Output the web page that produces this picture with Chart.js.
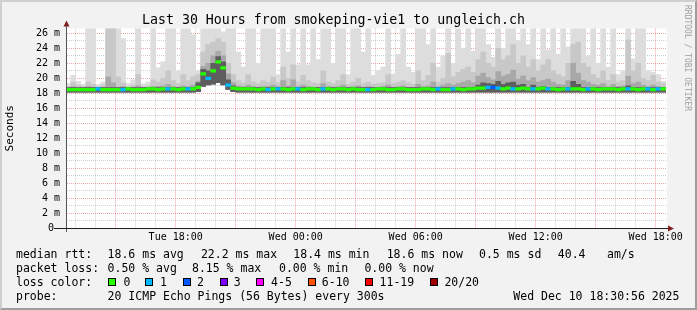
<!DOCTYPE html>
<html>
<head>
<meta charset="utf-8">
<script src="https://cdn.jsdelivr.net/npm/chart.js@4.4.1/dist/chart.umd.min.js"></script>
<style>
  html, body { margin: 0; padding: 0; background: #f2f2f2; }
  #wrap { position: relative; width: 697px; height: 310px; overflow: hidden; background: #f2f2f2; }
  #frame { position: absolute; left: 0; top: 0; width: 697px; height: 310px; box-sizing: border-box;
           border-style: solid; border-width: 2px; border-color: #cfcfcf #9e9e9e #9e9e9e #cfcfcf; }
  #c { position: absolute; left: 0; top: 0; }
  .t { position: absolute; font-family: 'DejaVu Sans Mono', monospace; font-size: 11.5px; line-height: 14px; color: #000; white-space: pre; }
  .sw { position: absolute; width: 8px; height: 8px; box-sizing: border-box; border: 1px solid #000; top: 278px; }
  #wm { position: absolute; left: 683px; top: 5px; writing-mode: vertical-rl; font-family: 'DejaVu Sans Mono', monospace; font-size: 8px; line-height: 9px; color: #a0a0a0; white-space: pre; }
</style>
</head>
<body>
<div id="wrap">
  <div id="frame"></div>
  <canvas id="c" width="697" height="310"></canvas>

  <div class="t" style="left:16px;top:247px">median rtt:</div>
  <div class="t" style="left:107.6px;top:247px">18.6 ms avg</div>
  <div class="t" style="left:200.9px;top:247px">22.2 ms max</div>
  <div class="t" style="left:293.3px;top:247px">18.4 ms min</div>
  <div class="t" style="left:386.7px;top:247px">18.6 ms now</div>
  <div class="t" style="left:479px;top:247px">0.5 ms sd</div>
  <div class="t" style="left:557.8px;top:247px">40.4</div>
  <div class="t" style="left:607px;top:247px">am/s</div>

  <div class="t" style="left:16px;top:261px">packet loss:</div>
  <div class="t" style="left:107.6px;top:261px">0.50 % avg</div>
  <div class="t" style="left:192px;top:261px">8.15 % max</div>
  <div class="t" style="left:279px;top:261px">0.00 % min</div>
  <div class="t" style="left:364.4px;top:261px">0.00 % now</div>

  <div class="t" style="left:16px;top:275px">loss color:</div>
  <div class="sw" style="left:108.4px;background:#26ff00"></div><div class="t" style="left:123.6px;top:275px">0</div>
  <div class="sw" style="left:145.3px;background:#00b8ff"></div><div class="t" style="left:160px;top:275px">1</div>
  <div class="sw" style="left:182.7px;background:#0059ff"></div><div class="t" style="left:196.9px;top:275px">2</div>
  <div class="sw" style="left:219.6px;background:#7e00ff"></div><div class="t" style="left:233.8px;top:275px">3</div>
  <div class="sw" style="left:256.4px;background:#ff00ff"></div><div class="t" style="left:271.1px;top:275px">4-5</div>
  <div class="sw" style="left:307.6px;background:#ff5500"></div><div class="t" style="left:321.8px;top:275px">6-10</div>
  <div class="sw" style="left:365.3px;background:#ff0000"></div><div class="t" style="left:379.6px;top:275px">11-19</div>
  <div class="sw" style="left:430.2px;background:#a10000"></div><div class="t" style="left:444.4px;top:275px">20/20</div>

  <div class="t" style="left:16px;top:289px">probe:</div>
  <div class="t" style="left:107.6px;top:289px">20 ICMP Echo Pings (56 Bytes) every 300s</div>
  <div class="t" style="left:513.3px;top:289px">Wed Dec 10 18:30:56 2025</div>

  <div id="wm">RRDTOOL / TOBI OETIKER</div>
</div>
<script>
// ---- data (hours since Tue 00:00; 15-minute steps from Tue 12:30) ----
const SLOT_START = 12.5;
const SLOT_STEP = 0.25;
const AXIS_START = 12.565;
const AXIS_END = 42.565;
const Y_MAX = 26.667;

const xTickHours = [18, 24, 30, 36, 42];
const xTickLabels = ['Tue 18:00', 'Wed 00:00', 'Wed 06:00', 'Wed 12:00', 'Wed 18:00'];
const yTickValues = [0, 2, 4, 6, 8, 10, 12, 14, 16, 18, 20, 22, 24, 26];

const lossColors = ['#26ff00', '#00b8ff', '#0059ff', '#7e00ff', '#ff00ff', '#ff5500', '#ff0000', '#a10000'];

// median rtt (ms)
const median = [
  18.5,18.5,18.5,18.5,18.5,18.5,18.6,18.5,18.5,18.5,
  18.5,18.5,18.6,18.5,18.5,18.5,18.6,18.6,18.5,18.6,
  18.6,18.6,18.5,18.6,18.6,18.6,18.8,20.6,20.0,21.0,
  22.2,21.4,19.1,18.7,18.6,18.6,18.6,18.6,18.5,18.6,
  18.5,18.6,18.6,18.6,18.5,18.6,18.6,18.5,18.6,18.6,
  18.5,18.6,18.6,18.5,18.6,18.6,18.5,18.6,18.5,18.5,
  18.5,18.5,18.6,18.6,18.5,18.5,18.6,18.6,18.5,18.5,
  18.5,18.6,18.6,18.5,18.6,18.5,18.5,18.6,18.6,18.5,
  18.6,18.6,18.7,18.7,18.8,18.8,18.7,18.6,18.7,18.6,
  18.6,18.7,18.6,18.6,18.6,18.7,18.6,18.6,18.5,18.6,
  18.6,18.6,18.6,18.5,18.6,18.6,18.5,18.6,18.6,18.6,
  18.5,18.6,18.6,18.6,18.5,18.6,18.6,18.5,18.6,18.6
];

// lost pings per step (index into lossColors)
const loss = [
  0,0,0,0,0,0,1,0,0,0,
  0,1,0,0,0,0,0,0,0,0,
  1,0,0,0,1,0,0,0,1,0,
  0,0,1,0,0,0,0,0,0,0,
  1,0,1,0,0,0,1,0,0,0,
  0,1,0,0,0,0,0,0,0,0,
  1,0,0,0,0,0,0,0,0,0,
  0,0,0,0,1,0,0,1,0,0,
  0,0,0,0,1,2,1,0,0,1,
  0,0,0,1,0,0,1,0,0,0,
  1,0,0,0,1,0,0,0,0,0,
  0,0,1,0,0,0,1,0,1,0
];

// smoke: lowest ping per step
const smokeMin = [
  18.15,18.15,18.15,18.15,18.15,18.15,18.15,18.15,18.15,18.15,
  18.15,18.15,18.15,18.15,18.15,18.15,18.15,18.15,18.15,18.15,
  18.15,18.15,18.15,18.15,18.15,18.15,18.2,18.9,19.1,19.2,
  19.4,19.1,18.5,18.2,18.15,18.15,18.15,18.15,18.15,18.15,
  18.15,18.15,18.15,18.15,18.15,18.15,18.15,18.15,18.15,18.15,
  18.15,18.15,18.15,18.15,18.15,18.15,18.15,18.15,18.15,18.15,
  18.15,18.15,18.15,18.15,18.15,18.15,18.15,18.15,18.15,18.15,
  18.15,18.15,18.15,18.15,18.15,18.15,18.15,18.15,18.15,18.15,
  18.15,18.15,18.15,18.15,18.15,18.15,18.15,18.15,18.15,18.15,
  18.15,18.15,18.15,18.15,18.15,18.15,18.15,18.15,18.15,18.15,
  18.15,18.15,18.15,18.15,18.15,18.15,18.15,18.15,18.15,18.15,
  18.15,18.15,18.15,18.15,18.15,18.15,18.15,18.15,18.15,18.15
];

// smoke: highest ping per step (values above the axis are clipped)
const smokeMax = [
  19.3,20.4,19.6,19.2,28,28,19.2,19.5,28,28,
  28,25.3,19.3,19.8,28,19.3,19.5,28,21.4,22.2,
  28,28,21.0,28,28,25.8,21.0,28,28,28,
  28,26.2,28,28,23.5,21.5,28,28,22.0,28,
  28,28,20.5,28,23.5,28,21.8,28,21.8,28,
  22.5,28,28,22.0,28,28,20.5,28,28,23.5,
  28,20.4,21.0,21.5,28,20.6,23.2,28,21.5,20.8,
  28,28,24.5,28,21.5,23.0,28,22.0,28,24.0,
  28,23.6,28,28,24.5,22.8,28,24.0,28,28,
  25.0,28,24.5,28,22.5,28,23.8,28,23.2,28,
  24.2,28,28,28,23.0,28,22.0,28,21.5,28,
  20.5,21.0,28,22.6,28,28,21.0,20.8,20.5,19.6
];

// smoke: upper outer pings
const smokeHigh = [
  18.9,19.5,19.1,18.9,19.5,19.2,18.9,19.1,28,28,
  20.2,19.4,18.9,19.1,20.5,18.9,19.0,19.8,19.5,20.0,
  21.0,19.7,19.3,20.5,19.7,20.2,20.5,23.5,24.5,24.8,
  25.3,24.8,22.0,20.5,19.7,19.4,20.5,19.5,19.3,19.7,
  19.5,20.2,19.4,21.5,20.0,21.8,19.5,20.4,19.7,19.4,
  19.3,21.0,19.5,19.3,19.7,20.5,19.2,19.5,20.0,19.3,
  19.5,19.2,19.3,19.4,20.5,19.3,19.5,19.7,19.4,19.2,
  21.0,19.7,20.4,22.0,19.5,20.0,23.3,20.2,20.8,21.2,
  21.5,20.8,22.5,23.5,22.0,21.5,24.0,22.5,23.0,24.5,
  22.0,23.0,21.5,22.5,21.0,21.8,22.5,21.0,20.5,20.2,
  22.0,24.5,24.8,22.0,21.5,20.5,20.0,21.0,19.7,20.5,
  19.5,19.7,25.1,21.0,22.0,20.0,19.7,20.4,19.5,19.3
];

// smoke: middle pings
const smokeMid = [
  18.8,18.9,18.8,18.8,18.9,18.8,18.8,18.8,20.2,19.4,
  18.8,18.9,18.8,18.8,19.0,18.8,18.8,18.9,18.9,19.0,
  19.2,18.9,18.8,19.0,18.9,19.1,19.6,21.6,22.0,23.0,
  23.6,23.0,20.6,19.4,19.0,18.9,19.1,18.9,18.8,18.9,
  18.9,19.1,18.9,19.7,19.0,19.8,18.9,19.1,18.9,18.8,
  18.8,19.3,18.9,18.8,18.9,19.1,18.8,18.9,19.0,18.8,
  18.9,18.8,18.8,18.9,19.1,18.8,18.9,19.0,18.8,18.8,
  19.2,18.9,19.0,19.5,18.9,19.1,19.3,19.1,19.3,19.5,
  19.7,19.4,20.3,20.7,20.1,19.8,20.9,20.3,20.5,21.1,
  19.9,20.3,19.7,20.1,19.5,19.7,19.9,19.5,19.2,19.1,
  19.7,22.0,20.7,19.7,19.5,19.2,19.1,19.3,18.9,19.2,
  18.9,19.0,20.3,19.3,19.5,19.1,18.9,19.1,18.9,18.8
];

// smoke: pings closest to the median
const smokeCore = [
  18.75,18.75,18.75,18.75,18.75,18.75,18.8,18.75,18.75,18.75,
  18.75,18.75,18.8,18.75,18.75,18.75,18.8,18.8,18.75,18.8,
  18.8,18.8,18.75,18.8,18.8,18.8,19.4,21.2,21.0,22.0,
  22.9,22.2,19.8,19.0,18.8,18.8,18.8,18.8,18.75,18.8,
  18.75,18.8,18.8,18.8,18.75,18.8,18.8,18.75,18.8,18.8,
  18.75,18.8,18.8,18.75,18.8,18.8,18.75,18.8,18.75,18.75,
  18.75,18.75,18.8,18.8,18.75,18.75,18.8,18.8,18.75,18.75,
  18.75,18.8,18.8,18.75,18.8,18.75,18.75,18.8,18.8,18.75,
  18.8,18.8,19.1,19.4,19.3,19.2,19.6,19.2,19.4,19.5,
  19.1,19.2,18.8,19.1,18.8,18.9,18.8,18.8,18.75,18.8,
  18.8,19.6,19.2,18.75,18.8,18.8,18.75,18.8,18.8,18.8,
  18.75,18.8,19.0,18.8,18.75,18.8,18.8,18.75,18.8,18.8
];

// ---- chart ----
const FONT = 'DejaVu Sans Mono';
const MEDIAN_HALF = 0.17;
const times = median.map((_, i) => SLOT_START + SLOT_STEP * (i + 0.5));

function smokeBand(top, color, order) {
  return {
    data: times.map((t, i) => ({ x: t, y: [smokeMin[i], top[i]] })),
    backgroundColor: color, borderWidth: 0, grouped: false,
    barPercentage: 1, categoryPercentage: 1, order: order, clip: 0
  };
}

const datasets = [
  {
    data: times.map((t, i) => ({ x: t, y: [median[i] - MEDIAN_HALF, median[i] + MEDIAN_HALF] })),
    backgroundColor: loss.map(l => lossColors[l]),
    borderWidth: 0, grouped: false, barPercentage: 1, categoryPercentage: 1, order: 0, clip: 0
  },
  smokeBand(smokeCore, '#5e5e5e', 1),
  smokeBand(smokeMid, '#a8a8a8', 2),
  smokeBand(smokeHigh, '#c8c8c8', 3),
  smokeBand(smokeMax, '#dddddd', 4)
];

const MINOR = 'rgba(143,143,143,0.42)';
const MAJOR = 'rgba(222,79,79,0.5)';

const frame = {
  id: 'frame',
  beforeDraw(chart) {
    const { ctx, chartArea: a } = chart;
    ctx.save();
    ctx.fillStyle = '#ffffff';
    ctx.fillRect(a.left, a.top, a.right - a.left, a.bottom - a.top);
    ctx.restore();
  },
  afterDraw(chart) {
    const { ctx, chartArea: a } = chart;
    ctx.save();
    // y axis
    ctx.strokeStyle = '#555555';
    ctx.lineWidth = 1;
    ctx.beginPath();
    ctx.moveTo(a.left - 0.5, a.bottom + 4);
    ctx.lineTo(a.left - 0.5, a.top - 3);
    ctx.stroke();
    // x axis
    ctx.strokeStyle = '#1f1f1f';
    ctx.beginPath();
    ctx.moveTo(a.left - 13, a.bottom + 0.5);
    ctx.lineTo(a.right + 3, a.bottom + 0.5);
    ctx.stroke();
    // arrows
    ctx.fillStyle = '#801f1f';
    ctx.beginPath();
    ctx.moveTo(a.left - 0.5, a.top - 8);
    ctx.lineTo(a.left + 2.5, a.top - 2);
    ctx.lineTo(a.left - 3.5, a.top - 2);
    ctx.closePath();
    ctx.fill();
    ctx.beginPath();
    ctx.moveTo(a.right + 7, a.bottom + 0.5);
    ctx.lineTo(a.right + 1, a.bottom - 2.5);
    ctx.lineTo(a.right + 1, a.bottom + 3.5);
    ctx.closePath();
    ctx.fill();
    ctx.restore();
  }
};

new Chart(document.getElementById('c'), {
  type: 'bar',
  data: { datasets },
  plugins: [frame],
  options: {
    responsive: false,
    animation: false,
    devicePixelRatio: 1,
    events: [],
    layout: { padding: { left: 0, right: 30, top: 0, bottom: 0 } },
    plugins: {
      legend: { display: false },
      tooltip: { enabled: false },
      title: {
        display: true,
        text: 'Last 30 Hours from smokeping-vie1 to ungleich.ch',
        color: '#000',
        font: { family: FONT, size: 13.25, weight: 'normal', lineHeight: 1.2 },
        padding: { top: 12.5, bottom: 0 }
      }
    },
    scales: {
      x: {
        type: 'linear',
        min: AXIS_START,
        max: AXIS_END,
        offset: false,
        z: 1,
        afterBuildTicks: axis => {
          const t = [];
          for (let h = Math.ceil(AXIS_START); h <= AXIS_END; h++) t.push({ value: h });
          axis.ticks = t;
        },
        afterFit: s => { s.height = 82; },
        grid: {
          offset: false,
          color: c => (c.tick && c.tick.value % 3 === 0) ? MAJOR : MINOR,
          lineWidth: 1,
          drawTicks: false
        },
        border: { display: false, dash: [1, 1] },
        ticks: {
          autoSkip: false, maxRotation: 0, minRotation: 0, padding: 3.5,
          color: '#000', font: { family: FONT, size: 10 },
          callback: v => { const k = xTickHours.indexOf(v); return k >= 0 ? xTickLabels[k] : ''; }
        }
      },
      y: {
        min: 0,
        max: Y_MAX,
        z: 1,
        afterBuildTicks: axis => {
          const t = [];
          for (let v = 0; v <= 26; v++) t.push({ value: v });
          axis.ticks = t;
        },
        afterFit: s => { s.width = 67; },
        grid: {
          color: c => (c.tick && c.tick.value % 2 === 0) ? MAJOR : MINOR,
          lineWidth: 1,
          drawTicks: false
        },
        border: { display: false, dash: [1, 1] },
        ticks: {
          autoSkip: false, padding: 7,
          color: '#000', font: { family: FONT, size: 10 },
          callback: v => yTickValues.includes(v) ? (v === 0 ? '0 ' : v + ' m') : ''
        },
        title: {
          display: true, text: 'Seconds', color: '#000',
          font: { family: FONT, size: 11 },
          padding: { top: 4, bottom: 0 }
        }
      }
    }
  }
});
</script>
</body>
</html>
